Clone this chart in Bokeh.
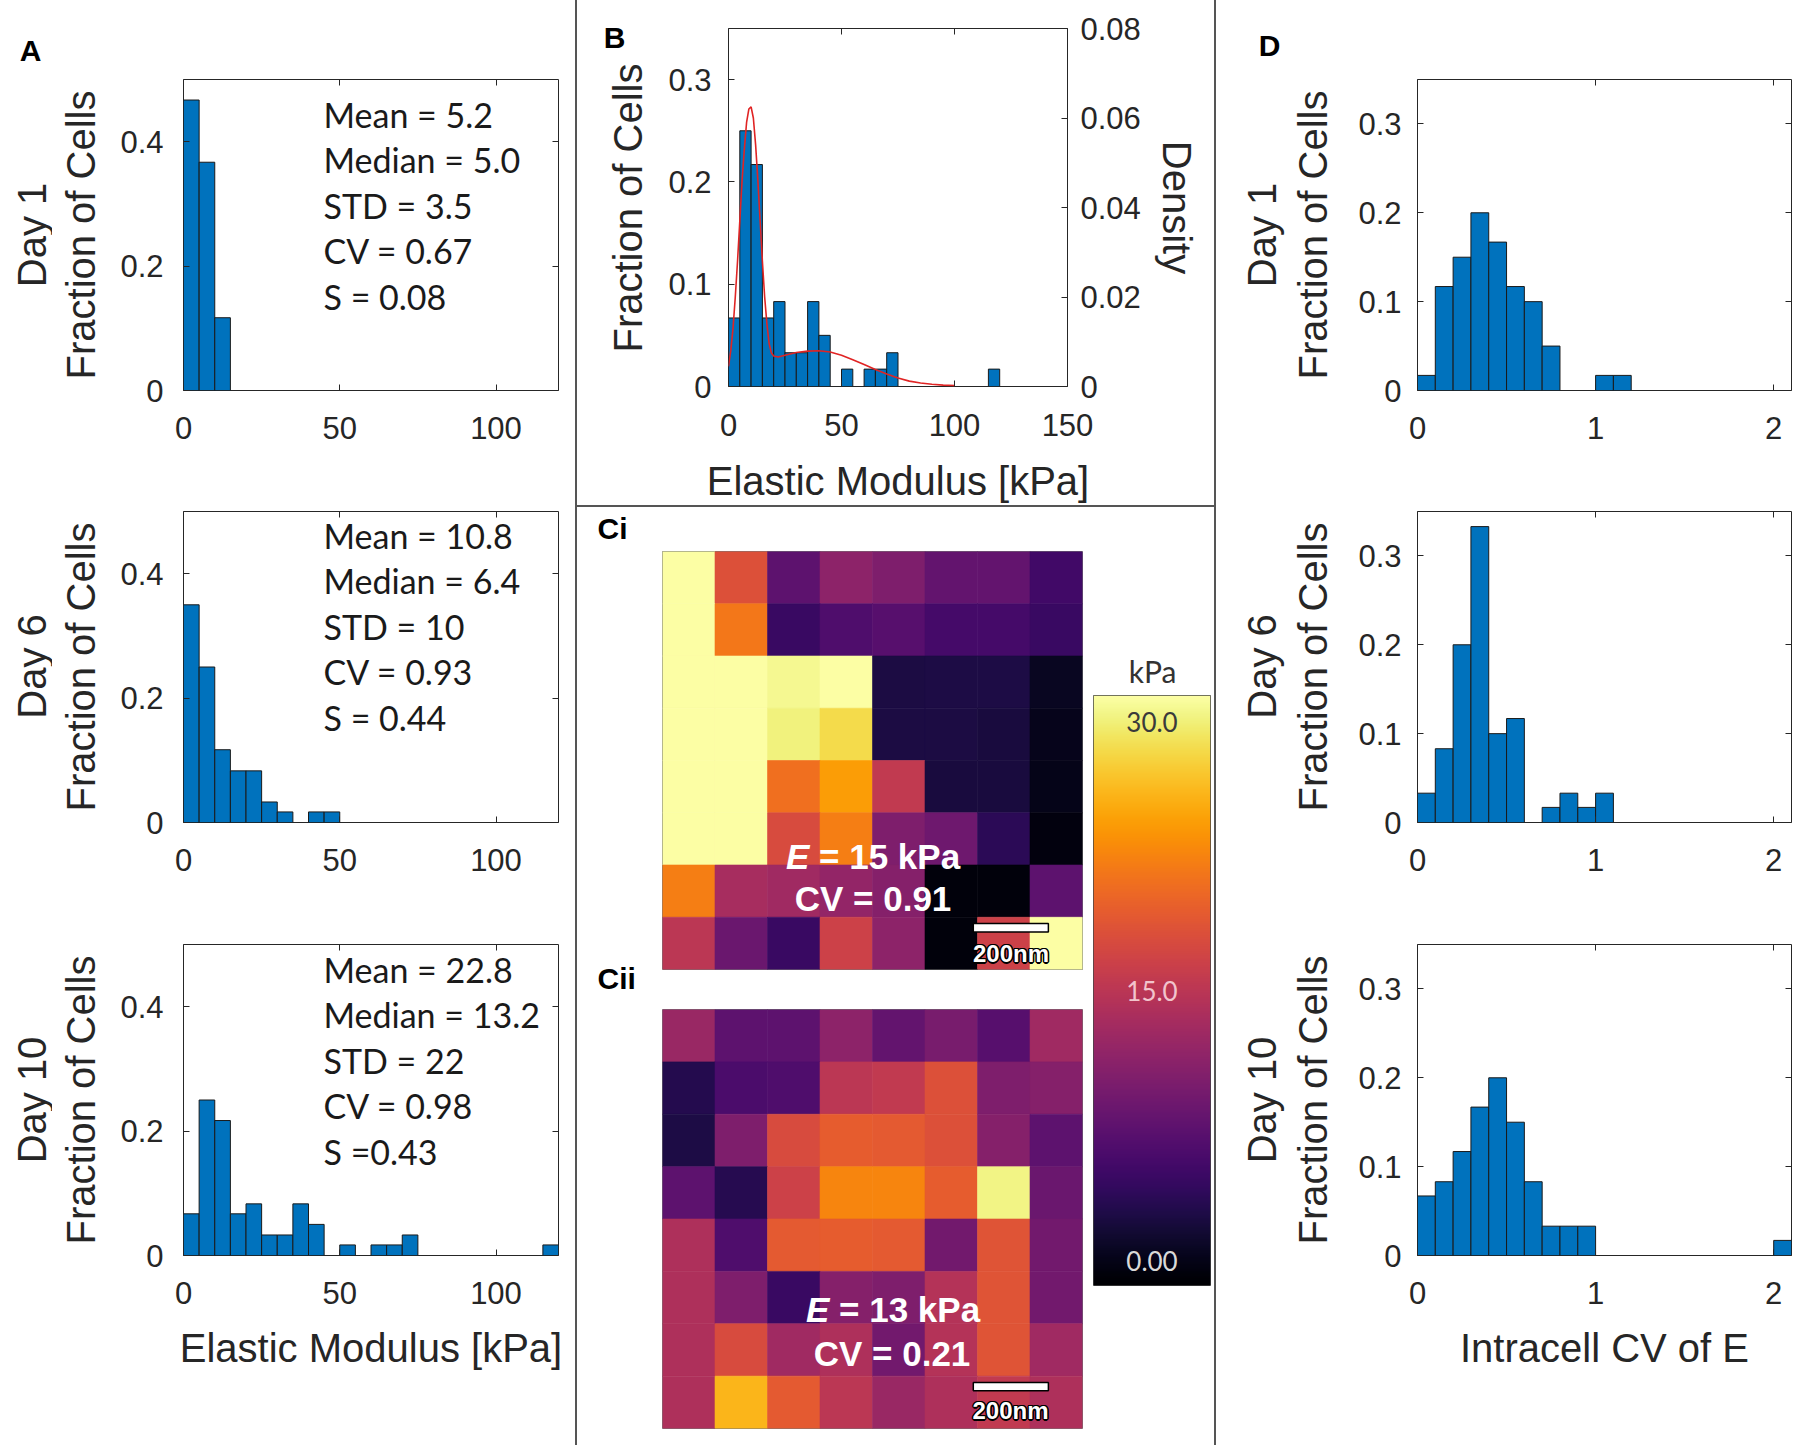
from math import pi
import numpy as np
from bokeh.plotting import figure
from bokeh.models import (Range1d, LinearAxis, FixedTicker, Label, Spacer,
                          LinearColorMapper, ColumnDataSource, CustomJSTickFormatter)
from bokeh.layouts import row, column
from bokeh.palettes import Inferno256
from bokeh.transform import linear_cmap
from bokeh.embed import file_html
from bokeh.resources import INLINE

# ---------------- data ----------------
E_BIN = 5.0            # kPa, bin width of elastic-modulus histograms
CV_BIN = 0.1           # bin width of intracell CV histograms

day1_E = [0.467, 0.367, 0.117]
day6_E = [0.35, 0.25, 0.117, 0.083, 0.083, 0.033, 0.017, 0.0, 0.017, 0.017]
day10_E = [0.067, 0.25, 0.217, 0.067, 0.083, 0.033, 0.033, 0.083, 0.05, 0.0,
           0.017, 0.0, 0.017, 0.017, 0.033, 0.0, 0.0, 0.0, 0.0, 0.0,
           0.0, 0.0, 0.0, 0.017]
b_fraction = [0.067, 0.25, 0.217, 0.067, 0.083, 0.033, 0.033, 0.083, 0.05, 0.0,
              0.017, 0.0, 0.017, 0.017, 0.033, 0.0, 0.0, 0.0, 0.0, 0.0,
              0.0, 0.0, 0.0, 0.017]

dens_x = [0, 1, 2, 3, 4, 5, 6, 7, 8, 9, 10, 11, 12, 13, 14, 15, 16, 17, 18, 19,
          20, 22, 25, 30, 35, 40, 45, 50, 55, 60, 65, 70, 75, 80, 85, 90, 95, 100]
dens_y = [0.0045, 0.008, 0.013, 0.020, 0.028, 0.037, 0.046, 0.053, 0.059, 0.062,
          0.0625, 0.060, 0.054, 0.046, 0.037, 0.028, 0.020, 0.014, 0.0095, 0.0075,
          0.0068, 0.0066, 0.0070, 0.0076, 0.0079, 0.0080, 0.0077, 0.0070, 0.0060, 0.0049,
          0.0038, 0.0028, 0.0019, 0.0012, 0.0008, 0.0005, 0.0003, 0.0002]

day1_cv = [0.017, 0.117, 0.15, 0.2, 0.167, 0.117, 0.1, 0.05, 0.0, 0.0, 0.017, 0.017]
day6_cv = [0.033, 0.083, 0.2, 0.333, 0.1, 0.117, 0.0, 0.017, 0.033, 0.017, 0.033]
day10_cv = [0.067, 0.083, 0.117, 0.167, 0.2, 0.15, 0.083, 0.033, 0.033, 0.033,
            0.0, 0.0, 0.0, 0.0, 0.0, 0.0, 0.0, 0.0, 0.0, 0.0, 0.017]

ci_map = [
    [30, 18, 8, 11.5, 10.5, 8.5, 8.5, 6],
    [30, 21, 5.5, 7, 7.5, 6.3, 6.3, 5.5],
    [30, 30, 29.3, 30, 3.5, 3.6, 3.6, 1.8],
    [30, 30, 28.8, 27.3, 3.5, 3.5, 3.2, 1.5],
    [30, 30, 20.5, 23.5, 15.5, 3.2, 3.2, 1.4],
    [30, 30, 17.5, 21.5, 10.5, 9.3, 4.5, 0.8],
    [21.5, 13.5, 13, 12, 11, 0.7, 0.7, 8],
    [15, 9, 5.5, 16.5, 11.5, 0.6, 16.5, 30],
]
cii_map = [
    [12.5, 8, 8, 11.5, 8.5, 10, 7.5, 13],
    [4, 6.7, 7, 15, 15.5, 18, 10.5, 11],
    [3.6, 10.5, 17.5, 19, 18.8, 18, 11, 8],
    [8, 4.2, 16.5, 22, 22, 19, 29, 9],
    [14, 7, 18.8, 19, 18.8, 9.5, 18.3, 9.5],
    [14, 10.5, 5.5, 11, 10.5, 14.5, 18.3, 9.5],
    [14, 17.5, 13, 14, 9.5, 14.5, 18.3, 13],
    [14, 25, 18.8, 15, 12.5, 14, 15.5, 14],
]
CMAP_LOW, CMAP_HIGH = 0.0, 30.0

DAYS = ["Day 1", "Day 6", "Day 10"]
STATS = [
    ["Mean = 5.2", "Median = 5.0", "STD = 3.5", "CV = 0.67", "S = 0.08"],
    ["Mean = 10.8", "Median = 6.4", "STD = 10", "CV = 0.93", "S = 0.44"],
    ["Mean = 22.8", "Median = 13.2", "STD = 22", "CV = 0.98", "S =0.43"],
]
MAP_TEXT = [("15 kPa", "CV = 0.91"), ("13 kPa", "CV = 0.21")]

E_XTICKS = [0, 50, 100]
E_YTICKS = [0, 0.2, 0.4]
B_XTICKS = [0, 50, 100, 150]
B_YTICKS = [0, 0.1, 0.2, 0.3]
B_DTICKS = [0, 0.02, 0.04, 0.06, 0.08]
CV_XTICKS = [0, 1, 2]
CV_YTICKS = [0, 0.1, 0.2, 0.3]
CBAR_LABELS = ["30.0", "15.0", "0.00"]

# ---------------- style ----------------
SANS = "Liberation Sans"
STATF = "Lato"
AXC = "#262626"
TICK_PX = "31px"
LAB_PX = "40px"
BAR_FILL = "#0072BD"
BAR_LINE = "#1a1a1a"
DIV = "#555555"

FMT = CustomJSTickFormatter(code="return String(Number(tick.toFixed(6)));")
FMT_EMPTY = CustomJSTickFormatter(code="return '';")


def new_fig(w, h, bl, br, bt, bb, xr, yr):
    p = figure(width=w, height=h, x_range=Range1d(*xr), y_range=Range1d(*yr),
               title=None, output_backend="svg", toolbar_location=None,
               min_border_left=bl, min_border_right=br,
               min_border_top=bt, min_border_bottom=bb)
    p.xgrid.visible = False
    p.ygrid.visible = False
    p.outline_line_color = AXC
    p.outline_line_width = 1
    p.outline_line_alpha = 1
    p.background_fill_color = "white"
    p.border_fill_color = "white"
    return p


def strip(w, h):
    """Blank helper canvas that carries texts lying outside the axes boxes."""
    p = figure(width=w, height=h, x_range=Range1d(0, w), y_range=Range1d(0, h),
               title=None, output_backend="svg", toolbar_location=None,
               x_axis_location=None, y_axis_location=None,
               min_border=0, min_border_left=0, min_border_right=0,
               min_border_top=0, min_border_bottom=0)
    p.xgrid.visible = False
    p.ygrid.visible = False
    p.outline_line_color = None
    p.background_fill_color = "white"
    p.border_fill_color = "white"
    return p


def style_axis(ax, ticks, standoff=0, hidden=False, label=None, label_standoff=10):
    ax.ticker = FixedTicker(ticks=ticks, minor_ticks=[])
    ax.formatter = FMT_EMPTY if hidden else FMT
    ax.major_tick_in = 6
    ax.major_tick_out = 0
    ax.major_tick_line_color = AXC
    ax.major_tick_line_width = 1
    ax.minor_tick_line_color = None
    ax.axis_line_color = None
    ax.major_label_standoff = standoff
    ax.major_label_text_font = SANS
    ax.major_label_text_font_size = "1px" if hidden else TICK_PX
    ax.major_label_text_color = AXC
    if label is not None:
        ax.axis_label = label
        ax.axis_label_standoff = label_standoff
        ax.axis_label_text_font = SANS
        ax.axis_label_text_font_size = LAB_PX
        ax.axis_label_text_font_style = "normal"
        ax.axis_label_text_color = AXC


def add_mirror(p, side, ticks, range_name=None):
    ax = LinearAxis()
    if range_name is not None:
        ax.y_range_name = range_name
    style_axis(ax, ticks, 0, hidden=True)
    p.add_layout(ax, side)


def draw_hist(p, vals, w):
    left = [i * w for i, v in enumerate(vals) if v > 0]
    right = [(i + 1) * w for i, v in enumerate(vals) if v > 0]
    top = [v for v in vals if v > 0]
    p.quad(left=left, right=right, bottom=0, top=top,
           fill_color=BAR_FILL, line_color=BAR_LINE, line_width=1)


def label(p, x, y, text, size, font=SANS, style="normal", color="black",
          align="left", baseline="middle", angle=0.0, xo=0, yo=0):
    p.add_layout(Label(x=x, y=y, x_units="screen", y_units="screen", text=text,
                       text_font=font, text_font_size=size, text_font_style=style,
                       text_color=color, text_align=align, text_baseline=baseline,
                       angle=angle, x_offset=xo, y_offset=yo))


TOTAL_H = 1445
ROW_H = [460, 430, 555]
ROW_BT = [79, 51, 54]
ROW_BB = [70, 68, 190]
ROW_CENTER = [1210.5, 779, 345.5]     # vertical centre of each row in strip units
STAT_Y0 = [276.5, 287.5, 286.5]
STAT_DY = 45.6

# ---------------- panel A ----------------
sA = strip(52, TOTAL_H)
label(sA, 30, 1395, "A", "30px", style="bold", align="center")
a_vals = [day1_E, day6_E, day10_E]
a_figs = []
for k in range(3):
    p = new_fig(523, ROW_H[k], 131, 17, ROW_BT[k], ROW_BB[k], (0, 120), (0, 0.5))
    draw_hist(p, a_vals[k], E_BIN)
    style_axis(p.yaxis[0], E_YTICKS, 20, label="Fraction of Cells", label_standoff=14)
    style_axis(p.xaxis[0], E_XTICKS, 26,
               label="Elastic Modulus [kPa]" if k == 2 else None, label_standoff=19)
    add_mirror(p, "above", E_XTICKS)
    add_mirror(p, "right", E_YTICKS)
    for j, s in enumerate(STATS[k]):
        label(p, 140, STAT_Y0[k] - j * STAT_DY, s, "34px", font=STATF, color="#1a1a1a")
    label(sA, 31, ROW_CENTER[k], DAYS[k], LAB_PX, color=AXC, align="center", angle=pi / 2)
    a_figs.append(p)

# ---------------- panel D ----------------
sD = strip(70, TOTAL_H)
label(sD, 53, 1400, "D", "30px", style="bold", align="center")
d_vals = [day1_cv, day6_cv, day10_cv]
d_figs = []
for k in range(3):
    p = new_fig(512, ROW_H[k], 131, 7, ROW_BT[k], ROW_BB[k], (0, 2.1), (0, 0.35))
    draw_hist(p, d_vals[k], CV_BIN)
    style_axis(p.yaxis[0], CV_YTICKS, 16, label="Fraction of Cells", label_standoff=20)
    style_axis(p.xaxis[0], CV_XTICKS, 26,
               label="Intracell CV of E" if k == 2 else None, label_standoff=19)
    add_mirror(p, "above", CV_XTICKS)
    add_mirror(p, "right", CV_YTICKS)
    label(sD, 45, ROW_CENTER[k], DAYS[k], LAB_PX, color=AXC, align="center", angle=pi / 2)
    d_figs.append(p)

# ---------------- panel B ----------------
B_H = 505
sB = strip(73, B_H)
label(sB, 37, B_H - 37, "B", "30px", style="bold", align="center")
label(sB, 50, B_H - 207.5, "Fraction of Cells", LAB_PX, color=AXC, align="center", angle=pi / 2)

pb = new_fig(564, B_H, 78, 147, 28, B_H - 388, (0, 150), (0, 0.35))
pb.extra_y_ranges = {"dens": Range1d(0, 0.08)}
draw_hist(pb, b_fraction, E_BIN)
pb.line(dens_x, dens_y, y_range_name="dens", line_color="#e02424", line_width=1.6)
style_axis(pb.yaxis[0], B_YTICKS, 17)
style_axis(pb.xaxis[0], B_XTICKS, 27, label="Elastic Modulus [kPa]", label_standoff=20)
rax = LinearAxis(y_range_name="dens")
style_axis(rax, B_DTICKS, 13, label="Density", label_standoff=11)
pb.add_layout(rax, "right")
add_mirror(pb, "above", B_XTICKS)

# ---------------- panel C (maps) ----------------
def map_fig(h, bt, bb, grid):
    p = new_fig(438, h, 12, 6, bt, bb, (0, 8), (0, 8))
    p.outline_line_color = "#777777"
    p.xaxis.visible = False
    p.yaxis.visible = False
    xs, ys, vs = [], [], []
    for r, rowv in enumerate(grid):
        for c, v in enumerate(rowv):
            xs.append(c + 0.5)
            ys.append(len(grid) - r - 0.5)
            vs.append(v)
    src = ColumnDataSource(dict(x=xs, y=ys, v=vs))
    cm = linear_cmap("v", Inferno256, CMAP_LOW, CMAP_HIGH)
    p.rect("x", "y", width=1, height=1, source=src, fill_color=cm,
           line_color=cm, line_width=0.6)
    # 200 nm scale bar
    p.quad(left=[5.92], right=[7.35], bottom=[0.72], top=[0.88],
           fill_color="white", line_color="black", line_width=1.5)
    return p


def outlined(p, x, y, text, size):
    for dx, dy in [(-1.5, 0), (1.5, 0), (0, -1.5), (0, 1.5), (-1, -1), (1, 1), (-1, 1), (1, -1)]:
        label(p, x, y, text, size, style="bold", color="black", align="center", xo=dx, yo=dy)
    label(p, x, y, text, size, style="bold", color="white", align="center")


C_H = TOTAL_H - B_H - 2          # 938
CI_H = 1000 - (B_H + 2)          # 493
sC = strip(73, C_H)
label(sC, 20, 917, "Ci", "30px", style="bold")
label(sC, 20, 467.5, "Cii", "30px", style="bold")

pci = map_fig(CI_H, 551 - (B_H + 2), 31, ci_map)
label(pci, 123.4, 113, "E", "35px", style="bold italic", color="white")
label(pci, 156.5, 113, "= " + MAP_TEXT[0][0], "35px", style="bold", color="white")
label(pci, 210.5, 71.5, MAP_TEXT[0][1], "35px", style="bold", color="white", align="center")
outlined(pci, 348.5, 16, "200nm", "24px")

pcii = map_fig(C_H - CI_H, 9, 17, cii_map)
label(pcii, 143.4, 119, "E", "35px", style="bold italic", color="white")
label(pcii, 176.5, 119, "= " + MAP_TEXT[1][0], "35px", style="bold", color="white")
label(pcii, 229.5, 75.5, MAP_TEXT[1][1], "35px", style="bold", color="white", align="center")
outlined(pcii, 348, 18, "200nm", "24px")

# colour bar
K_H = 693 - (B_H + 2)
sK = strip(126, K_H)
label(sK, 59, 23, "kPa", "30px", font=STATF, color="#333333", align="center")

pcb = new_fig(126, C_H - K_H, 5, 4, 2, 160, (0, 1), (CMAP_LOW, CMAP_HIGH))
pcb.outline_line_color = "#444444"
pcb.xaxis.visible = False
pcb.yaxis.visible = False
mapper = LinearColorMapper(palette=Inferno256, low=CMAP_LOW, high=CMAP_HIGH)
grad = np.linspace(CMAP_LOW, CMAP_HIGH, 256).reshape(256, 1)
pcb.image(image=[grad], x=0, y=CMAP_LOW, dw=1, dh=CMAP_HIGH - CMAP_LOW, color_mapper=mapper)
label(pcb, 58.5, 564, CBAR_LABELS[0], "26px", font=STATF, color="#3a3a3a", align="center")
label(pcb, 58.5, 294.5, CBAR_LABELS[1], "26px", font=STATF, color="#f2c4cd", align="center")
label(pcb, 58.5, 25, CBAR_LABELS[2], "26px", font=STATF, color="#d9d9d9", align="center")

# ---------------- layout ----------------
vdiv1 = Spacer(width=2, height=TOTAL_H, styles={"background-color": DIV})
vdiv2 = Spacer(width=2, height=TOTAL_H, styles={"background-color": DIV})
hdiv = Spacer(width=637, height=2, styles={"background-color": DIV})

col_a = row(sA, column(*a_figs, spacing=0), spacing=0)
col_d = row(sD, column(*d_figs, spacing=0), spacing=0)
b_row = row(column(sB, spacing=0), column(pb, spacing=0), spacing=0)
c_row = row(sC, column(pci, pcii, spacing=0), column(sK, pcb, spacing=0), spacing=0)
col_m = column(b_row, hdiv, c_row, spacing=0)
layout = row(col_a, vdiv1, col_m, vdiv2, col_d, spacing=0)

open("out.html", "w").write(file_html(layout, INLINE))
